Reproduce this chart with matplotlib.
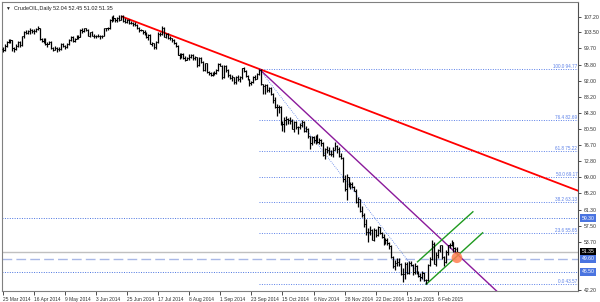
import matplotlib
matplotlib.use("Agg")
import matplotlib.pyplot as plt
from matplotlib.patches import Ellipse

plt.rcParams['font.family'] = ['Liberation Sans', 'DejaVu Sans']

# daily bars, 25 Mar 2014 .. 20 Feb 2015
opens = [99.6, 99.2, 100.3, 101.3, 101.7, 101.6, 99.7, 99.6, 100.3, 101.1,
         100.4, 102.6, 103.6, 103.4, 103.7, 104.1, 103.8, 103.8, 104.3, 104.4,
         101.8, 101.4, 101.9, 100.6, 100.8, 101.3, 99.7, 99.4, 99.8, 99.5,
         99.5, 100.8, 100.3, 100.0, 100.6, 101.7, 102.4, 101.5, 102.0, 102.6,
         102.4, 104.1, 103.7, 104.4, 104.1, 102.7, 103.6, 102.7, 102.5, 102.7,
         102.6, 102.5, 102.7, 104.4, 104.4, 104.4, 106.5, 106.9, 106.9, 106.4,
         107.0, 106.4, 107.3, 106.2, 106.0, 106.5, 105.8, 105.7, 105.4, 105.3,
         104.5, 104.1, 104.0, 103.5, 103.4, 102.3, 102.9, 100.8, 100.9, 100.0,
         101.2, 103.2, 103.1, 104.6, 102.4, 103.1, 102.1, 102.1, 101.7, 101.0,
         100.3, 98.2, 97.9, 98.3, 97.4, 96.9, 97.3, 97.7, 98.1, 97.4,
         97.6, 95.6, 97.4, 96.4, 94.5, 96.1, 94.0, 93.7, 93.4, 93.9,
         93.9, 94.6, 96.0, 95.5, 92.9, 95.5, 94.5, 93.3, 92.7, 92.8,
         91.7, 92.8, 92.3, 92.9, 94.9, 94.4, 93.1, 92.4, 91.5, 91.6,
         92.8, 92.5, 93.5, 94.6, 91.2, 90.7, 91.0, 89.7, 90.3, 88.9,
         87.3, 85.8, 85.8, 85.7, 81.8, 81.8, 82.7, 82.8, 82.7, 82.5,
         80.5, 82.1, 81.0, 81.0, 81.4, 82.2, 80.1, 80.5, 78.8, 77.2,
         78.7, 77.9, 78.7, 77.4, 77.9, 77.2, 74.2, 75.8, 75.6, 74.6,
         74.6, 75.6, 76.5, 75.8, 74.1, 73.7, 68.5, 66.2, 69.0, 66.9,
         67.4, 66.8, 65.8, 63.1, 63.8, 60.9, 60.0, 57.8, 55.9, 55.9,
         56.5, 54.1, 56.5, 55.3, 57.1, 55.8, 54.7, 53.6, 54.1, 53.3,
         52.7, 50.0, 47.9, 48.7, 48.8, 48.4, 46.1, 45.9, 48.5, 46.3,
         48.7, 48.2, 46.4, 47.8, 46.3, 45.6, 45.2, 46.2, 44.5, 44.5,
         48.2, 49.6, 53.1, 48.5, 50.5, 51.7, 52.9, 50.0, 48.8, 51.2,
         52.8, 53.0, 53.5, 52.1, 52.04]
highs = [100.0, 100.6, 101.4, 102.0, 101.9, 101.7, 100.0, 100.6, 101.5, 101.4,
         102.7, 103.7, 104.0, 104.0, 104.5, 104.3, 104.2, 104.5, 104.9, 104.5,
         102.2, 102.2, 102.2, 101.1, 101.5, 101.5, 99.9, 100.2, 100.0, 100.1,
         100.9, 101.0, 100.5, 100.9, 101.8, 102.6, 102.5, 102.2, 102.8, 102.8,
         104.2, 104.4, 104.5, 104.5, 104.2, 103.6, 103.7, 103.0, 102.9, 103.2,
         102.9, 102.9, 104.5, 104.6, 104.8, 106.7, 107.4, 107.5, 107.0, 107.1,
         107.5, 107.7, 107.5, 106.8, 106.6, 106.6, 106.2, 105.9, 106.0, 105.5,
         104.7, 104.2, 104.1, 104.0, 103.6, 103.0, 103.0, 101.2, 101.0, 101.4,
         103.5, 103.6, 104.9, 104.7, 103.3, 103.4, 102.5, 102.2, 102.0, 101.2,
         100.5, 98.5, 98.6, 98.5, 97.8, 97.7, 98.3, 98.4, 98.3, 97.9,
         97.7, 97.6, 97.5, 96.6, 96.2, 96.2, 94.4, 94.1, 94.1, 94.3,
         94.8, 96.1, 96.1, 95.6, 95.6, 95.8, 94.7, 93.5, 93.3, 92.9,
         93.0, 93.4, 93.1, 95.1, 95.3, 94.6, 93.4, 92.5, 92.0, 93.0,
         93.4, 93.7, 94.77, 94.7, 91.3, 91.1, 91.1, 90.6, 90.5, 89.0,
         88.1, 86.4, 86.2, 85.9, 82.3, 83.3, 83.5, 83.2, 83.4, 82.8,
         82.5, 82.4, 81.3, 82.0, 82.6, 82.3, 81.1, 80.7, 78.9, 78.9,
         78.9, 79.1, 79.2, 78.3, 78.0, 77.3, 76.0, 76.4, 76.1, 75.4,
         76.3, 77.3, 76.7, 76.1, 74.7, 73.9, 69.5, 69.9, 69.1, 67.9,
         67.9, 67.0, 66.3, 64.2, 63.9, 62.2, 60.4, 59.0, 56.9, 57.5,
         56.8, 56.9, 56.7, 57.4, 57.3, 56.0, 55.4, 54.6, 54.6, 53.6,
         52.8, 50.4, 49.3, 49.9, 49.9, 48.6, 47.5, 48.8, 48.8, 49.0,
         49.0, 48.3, 48.7, 48.1, 46.8, 46.2, 46.6, 46.4, 44.9, 48.3,
         50.0, 54.2, 53.5, 51.3, 52.0, 53.0, 53.0, 50.2, 51.7, 53.0,
         53.3, 54.2, 53.7, 52.5, 52.45]
lows = [98.7, 99.0, 99.9, 100.9, 100.9, 99.1, 98.8, 99.3, 100.0, 100.0,
        100.2, 102.2, 103.0, 103.0, 103.2, 103.3, 103.1, 103.6, 104.0, 101.6,
        101.1, 101.0, 100.4, 100.1, 100.6, 99.5, 99.1, 99.2, 98.9, 99.1,
        99.4, 100.0, 99.6, 99.8, 100.4, 101.5, 101.3, 101.2, 101.8, 102.0,
        102.3, 103.4, 103.5, 103.8, 102.6, 102.4, 102.5, 102.2, 102.1, 102.3,
        102.0, 102.1, 102.6, 103.8, 104.0, 104.3, 106.0, 106.2, 106.0, 105.9,
        106.1, 106.3, 105.9, 105.6, 105.6, 105.5, 105.4, 105.0, 104.9, 104.2,
        103.6, 103.8, 103.2, 102.9, 102.2, 101.7, 100.6, 100.2, 99.6, 99.6,
        101.0, 102.5, 102.8, 102.3, 102.1, 101.8, 101.6, 101.3, 100.8, 100.0,
        98.0, 97.2, 97.4, 97.1, 96.6, 96.8, 96.9, 97.4, 97.0, 96.9,
        95.3, 95.4, 96.1, 94.3, 94.3, 93.7, 93.4, 93.0, 93.1, 93.3,
        93.5, 94.4, 95.4, 92.5, 92.7, 94.1, 92.9, 92.3, 92.0, 91.3,
        91.2, 92.0, 91.6, 92.4, 94.0, 92.9, 92.1, 90.8, 90.9, 91.4,
        92.2, 92.4, 93.3, 90.9, 88.9, 88.9, 89.2, 89.2, 88.5, 86.6,
        85.4, 83.6, 84.2, 81.5, 80.0, 79.8, 81.5, 81.6, 81.7, 80.5,
        79.8, 80.6, 79.4, 80.5, 81.0, 79.8, 79.7, 78.3, 75.8, 76.6,
        77.1, 77.0, 77.1, 76.9, 76.4, 74.1, 73.3, 74.7, 74.2, 74.1,
        73.9, 75.4, 74.9, 73.8, 73.3, 67.8, 65.7, 63.7, 66.6, 66.3,
        66.5, 65.7, 62.9, 62.0, 60.8, 59.6, 57.3, 55.3, 53.6, 55.2,
        54.0, 53.9, 54.7, 55.1, 55.6, 54.5, 52.9, 53.1, 52.9, 52.0,
        49.8, 47.5, 47.0, 47.8, 47.8, 45.8, 44.2, 44.8, 46.0, 46.0,
        47.8, 45.8, 46.1, 46.0, 45.2, 44.4, 44.7, 44.3, 43.57, 44.4,
        47.8, 49.4, 48.4, 48.0, 49.9, 51.3, 49.6, 48.0, 48.6, 50.6,
        52.3, 52.6, 51.3, 50.9, 51.02]
closes = [99.2, 100.3, 101.3, 101.7, 101.6, 99.7, 99.6, 100.3, 101.1, 100.4,
          102.6, 103.6, 103.4, 103.7, 104.1, 103.8, 103.8, 104.3, 104.4, 101.8,
          101.4, 101.9, 100.6, 100.8, 101.3, 99.7, 99.4, 99.8, 99.5, 99.5,
          100.8, 100.3, 100.0, 100.6, 101.7, 102.4, 101.5, 102.0, 102.6, 102.4,
          104.1, 103.7, 104.4, 104.1, 102.7, 103.6, 102.7, 102.5, 102.7, 102.6,
          102.5, 102.7, 104.4, 104.4, 104.4, 106.5, 106.9, 106.9, 106.4, 107.0,
          106.4, 107.3, 106.2, 106.0, 106.5, 105.8, 105.7, 105.4, 105.3, 104.5,
          104.1, 104.0, 103.5, 103.4, 102.3, 102.9, 100.8, 100.9, 100.0, 101.2,
          103.2, 103.1, 104.6, 102.4, 103.1, 102.1, 102.1, 101.7, 101.0, 100.3,
          98.2, 97.9, 98.3, 97.4, 96.9, 97.3, 97.7, 98.1, 97.4, 97.6,
          95.6, 97.4, 96.4, 94.5, 96.1, 94.0, 93.7, 93.4, 93.9, 93.9,
          94.6, 96.0, 95.5, 92.9, 95.5, 94.5, 93.3, 92.7, 92.8, 91.7,
          92.8, 92.3, 92.9, 94.9, 94.4, 93.1, 92.4, 91.5, 91.6, 92.8,
          92.5, 93.5, 94.6, 91.2, 90.7, 91.0, 89.7, 90.3, 88.9, 87.3,
          85.8, 85.8, 85.7, 81.8, 81.8, 82.7, 82.8, 82.7, 82.5, 80.5,
          82.1, 81.0, 81.0, 81.4, 82.2, 80.1, 80.5, 78.8, 77.2, 78.7,
          77.9, 78.7, 77.4, 77.9, 77.2, 74.2, 75.8, 75.6, 74.6, 74.6,
          75.6, 76.5, 75.8, 74.1, 73.7, 68.5, 66.2, 69.0, 66.9, 67.4,
          66.8, 65.8, 63.1, 63.8, 60.9, 60.0, 57.8, 55.9, 55.9, 56.5,
          54.1, 56.5, 55.3, 57.1, 55.8, 54.7, 53.6, 54.1, 53.3, 52.7,
          50.0, 47.9, 48.7, 48.8, 48.4, 46.1, 45.9, 48.5, 46.3, 48.7,
          48.2, 46.4, 47.8, 46.3, 45.6, 45.2, 46.2, 44.5, 44.5, 48.2,
          49.6, 53.1, 48.5, 50.5, 51.7, 52.9, 50.0, 48.8, 51.2, 52.8,
          53.0, 53.5, 52.1, 51.2, 51.35]

date_labels = ["25 Mar 2014", "16 Apr 2014", "9 May 2014", "3 Jun 2014", "25 Jun 2014",
               "17 Jul 2014", "8 Aug 2014", "1 Sep 2014", "23 Sep 2014", "15 Oct 2014",
               "6 Nov 2014", "28 Nov 2014", "22 Dec 2014", "15 Jan 2015", "6 Feb 2015"]
price_ticks = [107.20, 103.50, 99.70, 95.80, 92.00, 88.20, 84.30, 80.50, 76.70,
               72.80, 69.00, 65.20, 61.30, 57.50, 53.70, 42.20]

fib_ratios = ["100.0", "76.4", "61.8", "50.0", "38.2", "23.6", "0.0"]
fib_prices = [94.77, 82.69, 75.22, 69.17, 63.13, 55.65, 43.57]
fib_start = 132        # bar of the 94.77 swing high
fib_end = 218          # bar of the 43.57 swing low

level_lines = [59.30, 46.50]   # dotted horizontal levels
dash_level = 49.60
bid = 51.35

red_pts = ([61, 132], [107.3, 94.77])
purple_pts = ([132, 215], [94.77, 58.9])
green_low = ([218, 247], [43.57, 55.8])
green_up = ([213.5, 242], [48.9, 60.8])
circle_at = (233.8, 49.9)

blue = '#4a74e0'
fibc = '#5b80e8'

fig = plt.figure(figsize=(6.0, 3.02), dpi=100)
ax = fig.add_axes([2 / 600, 11 / 302, 576 / 600, 289 / 302])
x_left, x_right = -0.36, 296.1
ax.set_xlim(x_left, x_right)
ax.set_ylim(41.96, 110.7)

idx = list(range(len(closes)))
ax.vlines(idx, lows, highs, color='black', lw=0.9, zorder=3)
ax.hlines(opens, [i - 0.6 for i in idx], idx, color='black', lw=0.7, zorder=3)
ax.hlines(closes, idx, [i + 0.6 for i in idx], color='black', lw=0.7, zorder=3)

# horizontal levels
for lv in level_lines:
    ax.axhline(lv, color=blue, lw=0.7, ls=(0, (1, 1.5)), zorder=1)
ax.axhline(dash_level, color='#a9b8e6', lw=1.0, ls=(0, (7, 3)), zorder=1)
ax.axhline(bid, color='#c0c0c0', lw=1.0, zorder=1)

# fibonacci
for r, p in zip(fib_ratios, fib_prices):
    ax.hlines(p, fib_start, x_right, color=fibc, lw=0.7, ls=(0, (1, 1.5)), zorder=1)
    ax.text(x_right - 0.3, p, f"{r} {p:.2f}", fontsize=3.3, color=fibc,
            ha='right', va='bottom', zorder=4)
ax.plot([fib_start, fib_end], [fib_prices[0], fib_prices[-1]], color=fibc,
        lw=0.6, ls=(0, (1, 1.5)), zorder=1)

# trend lines (extended as rays)
def ray(pts, color, lw):
    (x0, x1), (y0, y1) = pts
    k = (y1 - y0) / (x1 - x0)
    ax.plot([x0, x_right + 20], [y0, y0 + k * (x_right + 20 - x0)], color=color,
            lw=lw, zorder=2, solid_capstyle='butt')

ray(red_pts, '#ff0000', 1.3)
ray(purple_pts, '#8b1a9b', 1.0)
for g in (green_low, green_up):
    ax.plot(g[0], g[1], color='#1f9a1f', lw=1.0, zorder=2)

ax.add_patch(Ellipse(circle_at, 5.5, 2.6, color='#ff7f50', alpha=0.85, zorder=5, lw=0))

# axes styling
for s in ax.spines.values():
    s.set_color('#808080')
    s.set_linewidth(0.8)
ax.spines['right'].set_color('#505050')

ax.yaxis.tick_right()
ax.set_yticks(price_ticks)
ax.set_yticklabels([f"{v:.2f}" for v in price_ticks])
ax.tick_params(axis='y', direction='out', length=2.5, width=0.6, pad=1.5,
               labelsize=3.7, colors='#303030')
ax.set_xticks([i * 16 for i in range(len(date_labels))])
ax.set_xticklabels(date_labels, ha='left')
ax.tick_params(axis='x', direction='out', length=3, width=0.6, pad=1,
               labelsize=3.5, colors='#303030')

# price boxes on the scale
tags = [(59.30, blue), (bid, 'black'), (dash_level, blue), (46.50, blue)]
for v, c in tags:
    ax.text(1.006, v, f"{v:.2f}", transform=ax.get_yaxis_transform(), fontsize=3.7,
            color='white', ha='left', va='center', zorder=6, clip_on=False,
            bbox=dict(boxstyle='square,pad=0.25', fc=c, ec='none'))

ax.text(0.006, 0.985, "\u25bc", transform=ax.transAxes, fontsize=3.5, color='#202020',
        ha='left', va='top')
ax.text(0.02, 0.985, "CrudeOIL,Daily 52.04 52.45 51.02 51.35", transform=ax.transAxes,
        fontsize=4.0, color='#202020', ha='left', va='top')

fig.savefig("out.png", dpi=100)
